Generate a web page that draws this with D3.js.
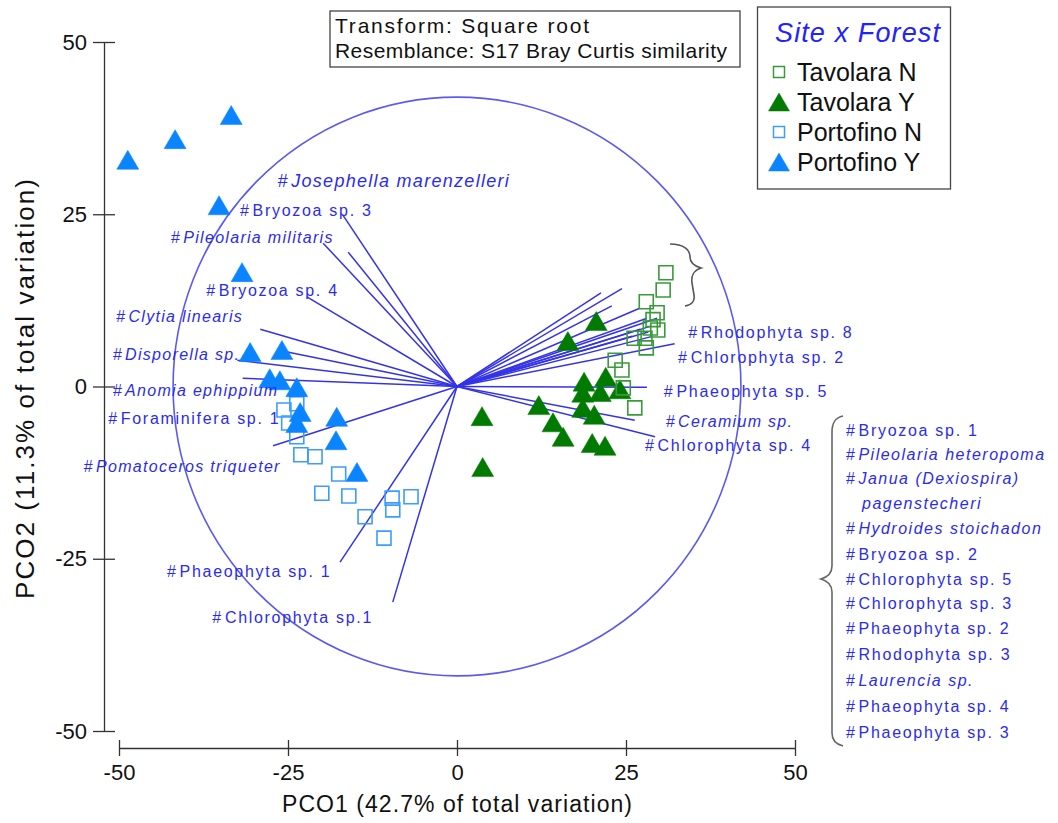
<!DOCTYPE html>
<html>
<head>
<meta charset="utf-8">
<script src="https://cdn.jsdelivr.net/npm/d3@7"></script>
<style>
  body { margin: 0; background: #fff; }
  svg { font-family: "Liberation Sans", Arial, sans-serif; }
</style>
</head>
<body>
<svg id="chart" width="1058" height="823"></svg>
<script>
'use strict';

// PCO scores (PCO1, PCO2)
var tavolaraN = [
  [30.9, 16.5], [30.5, 14.0], [28.0, 12.3], [29.6, 10.7], [29.0, 9.7],
  [29.7, 8.2], [28.6, 8.5], [26.2, 7.0], [27.8, 7.0], [28.0, 5.6],
  [23.4, 3.8], [24.4, 2.4], [24.6, -0.2], [26.3, -3.1]
];
var tavolaraY = [
  [16.4, 6.6], [20.6, 9.5], [3.7, -4.3], [3.8, -11.7], [12.1, -2.7],
  [14.2, -5.2], [15.7, -7.3], [18.8, 0.7], [22.0, 1.4], [24.1, -0.4],
  [18.6, -0.9], [21.2, -0.8], [18.6, -3.1], [20.3, -4.1], [20.0, -8.2],
  [21.9, -8.6]
];
var portofinoN = [
  [-25.6, -3.4], [-23.7, -2.5], [-24.9, -5.3], [-23.7, -7.3], [-23.1, -9.9],
  [-21.0, -10.2], [-17.5, -12.7], [-20.0, -15.5], [-16.0, -15.9], [-13.6, -18.9],
  [-9.6, -16.2], [-9.5, -17.9], [-6.8, -16.0], [-10.8, -22.0]
];
var portofinoY = [
  [-48.7, 32.9], [-41.7, 35.9], [-33.4, 39.4], [-35.2, 26.3], [-31.8, 16.6],
  [-30.6, 5.0], [-25.9, 5.3], [-27.7, 1.2], [-26.2, 0.9], [-23.7, -0.1],
  [-23.2, -3.7], [-23.7, -5.3], [-17.8, -4.4], [-17.9, -7.8], [-14.8, -12.4]
];

var groupNames = ['Tavolara N', 'Tavolara Y', 'Portofino N', 'Portofino Y'];

// species vectors (end points, PCO units)
var vectorEnds = [
  [-16.9, 24.9], [-19.8, 20.8], [-16.1, 19.5], [-22.2, 13.0], [-29.1, 8.3],
  [-25.1, 5.0], [-32.5, 3.8], [-31.7, 1.2], [-27.2, -8.6], [-17.3, -25.5],
  [-9.5, -31.3],
  [21.3, 13.6], [24.4, 14.2], [22.9, 11.7], [27.1, 11.4], [28.1, 9.9],
  [29.6, 9.9], [27.1, 8.3], [28.8, 8.8], [28.3, 7.9], [25.9, 7.3],
  [28.6, 7.2], [32.2, 6.2], [28.1, -0.1], [26.3, -4.9], [29.3, -7.3]
];
var circleRadius = 42;

// labels beside the vectors: [name, italic]
var vectorLabels = [
  ['Josephella marenzelleri', true], ['Bryozoa sp. 3', false], ['Pileolaria militaris', true],
  ['Bryozoa sp. 4', false], ['Clytia linearis', true], ['Disporella sp.', true],
  ['Anomia ephippium', true], ['Foraminifera sp. 1', false], ['Pomatoceros triqueter', true],
  ['Phaeophyta sp. 1', false], ['Chlorophyta sp.1', false], ['Rhodophyta sp. 8', false],
  ['Chlorophyta sp. 2', false], ['Phaeophyta sp. 5', false], ['Ceramium sp.', true],
  ['Chlorophyta sp. 4', false]
];
var labelSpots = [
  [-26.5, 29.0], [-32.1, 24.7], [-42.3, 20.8], [-37.1, 13.1], [-50.4, 9.4],
  [-50.9, 3.9], [-50.9, -1.4], [-51.6, -5.4], [-55.2, -12.4], [-42.9, -27.6],
  [-36.2, -34.3], [34.2, 7.0], [32.7, 3.4], [30.6, -1.5], [30.9, -5.9], [27.8, -9.4]
];

// bracketed list on the right
var bracketList = [
  ['Bryozoa sp. 1', false], ['Pileolaria heteropoma', true], ['Janua (Dexiospira)', true],
  ['pagenstecheri', true], ['Hydroides stoichadon', true], ['Bryozoa sp. 2', false],
  ['Chlorophyta sp. 5', false], ['Chlorophyta sp. 3', false], ['Phaeophyta sp. 2', false],
  ['Rhodophyta sp. 3', false], ['Laurencia sp.', true], ['Phaeophyta sp. 4', false],
  ['Phaeophyta sp. 3', false]
];

var xTicks = [-50, -25, 0, 25, 50];
var yTicks = [-50, -25, 0, 25, 50];
var tickLabels = ['-50', '-25', '0', '25', '50'];

var blueText = '#2b2bef';
var vecColor = '#3434e6';
var green = '#007a00';
var blue = '#0a84ff';

var svg = d3.select('#chart');
var x = d3.scaleLinear().domain([-50, 50]).range([119, 795]);
var y = d3.scaleLinear().domain([-50, 50]).range([731, 42]);

// axes
var yAxis = svg.append('g')
  .attr('transform', 'translate(104,0)')
  .call(d3.axisLeft(y).tickValues(yTicks).tickSize(11).tickSizeOuter(0).tickPadding(6)
    .tickFormat(function(d) { return tickLabels[yTicks.indexOf(d)]; }));
yAxis.selectAll('.tick line').attr('x1', 11);

var xAxis = svg.append('g')
  .attr('transform', 'translate(0,748)')
  .call(d3.axisBottom(x).tickValues(xTicks).tickSize(8).tickSizeOuter(0).tickPadding(8)
    .tickFormat(function(d) { return tickLabels[xTicks.indexOf(d)]; }));
xAxis.selectAll('.tick line').attr('y1', -8);

[yAxis, xAxis].forEach(function(ax) {
  ax.select('.domain').attr('stroke', '#333').attr('stroke-width', 1.3);
  ax.selectAll('.tick line').attr('stroke', '#333').attr('stroke-width', 1.3);
  ax.selectAll('.tick text')
    .attr('fill', '#111')
    .style('font-size', '22px')
    .style('font-family', '"Liberation Sans", Arial, sans-serif');
});

svg.append('text')
  .attr('x', 457).attr('y', 812)
  .attr('text-anchor', 'middle')
  .attr('textLength', 350)
  .style('font-size', '23px').attr('fill', '#111')
  .text('PCO1 (42.7% of total variation)');

svg.append('text')
  .attr('transform', 'translate(34,389) rotate(-90)')
  .attr('text-anchor', 'middle')
  .attr('textLength', 420)
  .style('font-size', '26px').attr('fill', '#111')
  .text('PCO2 (11.3% of total variation)');

// correlation circle
svg.append('ellipse')
  .attr('cx', x(0)).attr('cy', y(0))
  .attr('rx', x(circleRadius) - x(0))
  .attr('ry', y(0) - y(circleRadius))
  .attr('fill', 'none')
  .attr('stroke', '#5a5af2')
  .attr('stroke-width', 1.6);

// vectors
svg.append('g').selectAll('line')
  .data(vectorEnds)
  .join('line')
  .attr('x1', x(0)).attr('y1', y(0))
  .attr('x2', function(d) { return x(d[0]); })
  .attr('y2', function(d) { return y(d[1]); })
  .attr('stroke', vecColor)
  .attr('stroke-width', 1.5);

// symbols
function triPath(w, h) {
  return 'M0,' + (-h / 2) + 'L' + (w / 2) + ',' + (h / 2) + 'L' + (-w / 2) + ',' + (h / 2) + 'Z';
}
function sqPath(s) {
  return 'M' + (-s / 2) + ',' + (-s / 2) + 'h' + s + 'v' + s + 'h' + (-s) + 'Z';
}

var groups = [
  { data: tavolaraY, shape: 'tri', color: green },
  { data: tavolaraN, shape: 'sq', color: '#3a9a3a' },
  { data: portofinoN, shape: 'sq', color: '#3c9cff' },
  { data: portofinoY, shape: 'tri', color: blue }
];

groups.forEach(function(g) {
  svg.append('g').selectAll('path')
    .data(g.data)
    .join('path')
    .attr('transform', function(d) { return 'translate(' + x(d[0]) + ',' + y(d[1]) + ')'; })
    .attr('d', g.shape === 'tri' ? triPath(22, 19) : sqPath(14))
    .attr('fill', g.shape === 'tri' ? g.color : 'none')
    .attr('stroke', g.color)
    .attr('stroke-width', g.shape === 'tri' ? 0.5 : 1.6);
});

// vector labels
function addLabel(sel, name, italic) {
  sel.append('tspan').text('#');
  sel.append('tspan')
    .attr('dx', 2)
    .style('font-style', italic ? 'italic' : 'normal')
    .text(name);
}

vectorLabels.forEach(function(l, i) {
  var t = svg.append('text')
    .attr('x', x(labelSpots[i][0]))
    .attr('y', y(labelSpots[i][1]))
    .attr('fill', blueText)
    .style('font-size', i === 0 ? '18px' : '16px')
    .style('letter-spacing', l[1] ? '1.3px' : '1.7px');
  addLabel(t, l[0], l[1]);
});

// bracketed list
var listTops = [436, 460, 484, 509, 534, 560, 585, 609, 634, 660, 686, 712, 738];
bracketList.forEach(function(l, i) {
  var t = svg.append('text')
    .attr('x', i === 3 ? 862 : 846)
    .attr('y', listTops[i])
    .attr('fill', blueText)
    .style('font-size', '16px')
    .style('letter-spacing', l[1] ? '1.5px' : '1.7px');
  if (i === 3) {
    t.style('font-style', 'italic').text(l[0]);
  } else {
    addLabel(t, l[0], l[1]);
  }
});

// braces
svg.append('path')
  .attr('d', 'M843,416 C834,418 832,424 832,432 L832,566 C832,573 828,577 821,579 C828,581 832,585 832,592 L832,733 C832,740 835,744 843,746')
  .attr('fill', 'none').attr('stroke', '#666').attr('stroke-width', 1.6);

svg.append('path')
  .attr('d', 'M670,244 C684,244 690,250 690,257 C690,263 694,266 701,268 C694,270 691,276 692,283 L694,295 C695,301 692,305 685,306')
  .attr('fill', 'none').attr('stroke', '#555').attr('stroke-width', 1.6);

// info box
svg.append('rect')
  .attr('x', 330).attr('y', 11).attr('width', 410).attr('height', 56)
  .attr('fill', '#fff').attr('stroke', '#444').attr('stroke-width', 1.3);
svg.append('text').attr('x', 335).attr('y', 33)
  .attr('textLength', 254)
  .style('font-size', '21px').attr('fill', '#111')
  .text('Transform: Square root');
svg.append('text').attr('x', 335).attr('y', 58)
  .attr('textLength', 392)
  .style('font-size', '21px').attr('fill', '#111')
  .text('Resemblance: S17 Bray Curtis similarity');

// legend
var legend = svg.append('g');
legend.append('rect')
  .attr('x', 757.5).attr('y', 7).attr('width', 193).attr('height', 182)
  .attr('fill', '#fff').attr('stroke', '#444').attr('stroke-width', 1.3);
legend.append('text')
  .attr('x', 775).attr('y', 42)
  .attr('textLength', 165)
  .style('font-size', '27px').style('font-style', 'italic')
  .attr('fill', '#2222ff')
  .text('Site x Forest');

var legendSym = [
  { shape: 'sq', color: '#3a9a3a' },
  { shape: 'tri', color: green },
  { shape: 'sq', color: '#3c9cff' },
  { shape: 'tri', color: blue }
];
groupNames.forEach(function(name, i) {
  var cy = 72 + i * 30;
  legend.append('path')
    .attr('transform', 'translate(779,' + cy + ')')
    .attr('d', legendSym[i].shape === 'tri' ? triPath(21, 18) : sqPath(11))
    .attr('fill', legendSym[i].shape === 'tri' ? legendSym[i].color : 'none')
    .attr('stroke', legendSym[i].color)
    .attr('stroke-width', legendSym[i].shape === 'tri' ? 0.5 : 1.5);
  legend.append('text')
    .attr('x', 797).attr('y', cy + 9)
    .style('font-size', '25px').attr('fill', '#111')
    .text(name);
});
</script>
</body>
</html>
